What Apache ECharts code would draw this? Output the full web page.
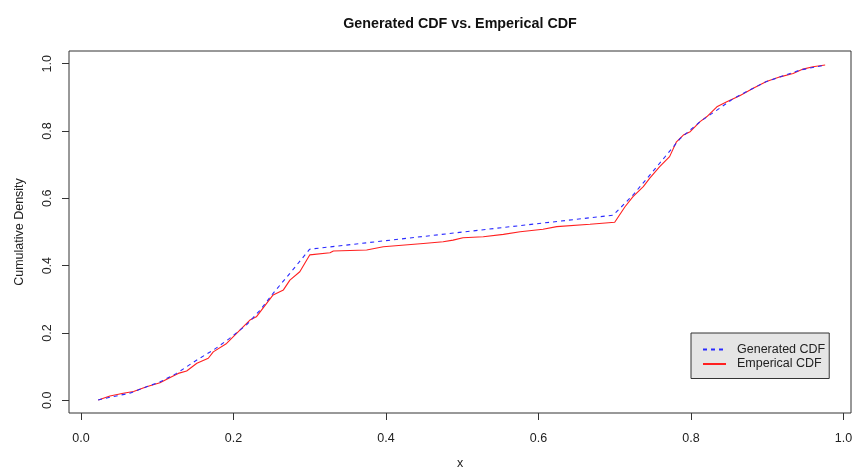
<!DOCTYPE html>
<html>
<head>
<meta charset="utf-8">
<script src="https://cdn.jsdelivr.net/npm/echarts@6/dist/echarts.min.js"></script>
<style>
  html, body { margin: 0; padding: 0; background: #fff; }
  #chart { width: 852px; height: 468px; }
</style>
</head>
<body>
<div id="chart"></div>
<script>
// Generated (model) CDF
const genX = [0.0225, 0.040, 0.064, 0.086, 0.104, 0.1255, 0.152, 0.1735, 0.195, 0.217, 0.235, 0.252, 0.274, 0.300,
  0.698, 0.724, 0.746, 0.768, 0.786, 0.812, 0.834, 0.856, 0.877, 0.899, 0.921, 0.943, 0.976];
const genY = [0.001, 0.010, 0.021, 0.040, 0.055, 0.080, 0.120, 0.149, 0.184, 0.224, 0.268, 0.318, 0.377, 0.449,
  0.550, 0.610, 0.669, 0.729, 0.778, 0.828, 0.862, 0.897, 0.922, 0.947, 0.964, 0.981, 0.996];

// Empirical CDF of the sample
const empX = [0.0227, 0.038, 0.0555, 0.069, 0.086, 0.1036, 0.117, 0.1276, 0.1386, 0.152,
  0.167, 0.1735, 0.191, 0.213, 0.2216, 0.230, 0.2435, 0.252, 0.2655, 0.274,
  0.287, 0.300, 0.3266, 0.331, 0.3747, 0.3965, 0.449, 0.475, 0.488, 0.501,
  0.5276, 0.554, 0.576, 0.606, 0.624, 0.6675, 0.700, 0.7135, 0.724, 0.7375,
  0.746, 0.759, 0.772, 0.781, 0.790, 0.799, 0.812, 0.821, 0.834, 0.847,
  0.864, 0.8817, 0.899, 0.917, 0.934, 0.947, 0.960, 0.976];
const empY = [0.001, 0.013, 0.021, 0.026, 0.040, 0.052, 0.068, 0.080, 0.087, 0.110,
  0.125, 0.144, 0.169, 0.219, 0.2385, 0.248, 0.288, 0.313, 0.328, 0.357,
  0.382, 0.432, 0.4385, 0.4435, 0.4465, 0.456, 0.466, 0.471, 0.476, 0.483,
  0.486, 0.493, 0.501, 0.508, 0.516, 0.523, 0.529, 0.575, 0.605, 0.635,
  0.660, 0.694, 0.724, 0.768, 0.788, 0.798, 0.828, 0.843, 0.872, 0.887,
  0.905, 0.927, 0.947, 0.961, 0.971, 0.984, 0.991, 0.996];

const xTicks = [0, 0.2, 0.4, 0.6, 0.8, 1.0];
const yTicks = [0, 0.2, 0.4, 0.6, 0.8, 1.0];

const FONT = "'Liberation Sans', Arial, sans-serif";
const INK = '#333';

const pairs = (xs, ys) => xs.map((x, i) => [x, ys[i]]);

const chart = echarts.init(document.getElementById('chart'), null, { renderer: 'canvas' });
chart.setOption({
  animation: false,
  backgroundColor: '#fff',
  title: {
    text: 'Generated CDF vs. Emperical CDF',
    left: 455,
    textAlign: 'center',
    top: 12,
    textStyle: { fontFamily: FONT, fontSize: 14.3, fontWeight: 'bold', color: '#111' }
  },
  grid: {
    left: 69, right: 1, top: 51, bottom: 55,
    outerBoundsMode: 'none',
    containLabel: false,
    show: true, borderColor: INK, borderWidth: 1, backgroundColor: 'transparent'
  },
  legend: {
    orient: 'vertical',
    left: 691, top: 333,
    padding: [10, 4, 8, 11],
    itemWidth: 23, itemHeight: 14, itemGap: 1.5,
    backgroundColor: '#e5e5e5',
    borderColor: INK, borderWidth: 1, borderRadius: 0,
    selectedMode: false,
    itemStyle: { opacity: 0 },
    textStyle: { fontFamily: FONT, fontSize: 12.5, color: '#222', padding: [0, 0, 0, 6] },
    data: ['Generated CDF', 'Emperical CDF']
  },
  xAxis: {
    type: 'value',
    min: -0.0157, max: 1.0099,
    name: 'x', nameLocation: 'middle', nameGap: 44,
    nameTextStyle: { fontFamily: FONT, fontSize: 12.5, color: '#222' },
    axisLine: { show: false, onZero: false },
    splitLine: { show: false },
    axisTick: { show: true, length: 7, customValues: xTicks, lineStyle: { color: INK } },
    axisLabel: {
      customValues: xTicks, margin: 19,
      fontFamily: FONT, fontSize: 12.5, color: '#222',
      formatter: v => v.toFixed(1)
    }
  },
  yAxis: {
    type: 'value',
    min: -0.0377, max: 1.0378,
    name: 'Cumulative Density', nameLocation: 'middle', nameGap: 43, nameRotate: 90,
    nameTextStyle: { fontFamily: FONT, fontSize: 12.5, color: '#222' },
    axisLine: { show: false, onZero: false },
    splitLine: { show: false },
    axisTick: { show: true, length: 7, customValues: yTicks, lineStyle: { color: INK } },
    axisLabel: {
      customValues: yTicks, margin: 14.5, rotate: 90,
      fontFamily: FONT, fontSize: 12.5, color: '#222',
      formatter: v => v.toFixed(1)
    }
  },
  series: [
    {
      name: 'Emperical CDF', type: 'line', data: pairs(empX, empY),
      showSymbol: false, symbol: 'none',
      lineStyle: { color: '#ff2020', width: 1.1 }, itemStyle: { color: '#ff2020' }
    },
    {
      name: 'Generated CDF', type: 'line', data: pairs(genX, genY),
      showSymbol: false, symbol: 'none',
      lineStyle: { color: '#2a2aff', width: 1.1, type: [4, 4] }, itemStyle: { color: '#2a2aff' }
    }
  ]
});
</script>
</body>
</html>
